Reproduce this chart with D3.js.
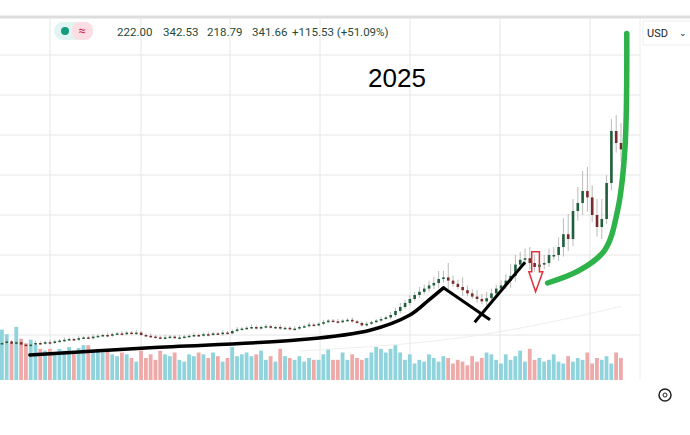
<!DOCTYPE html>
<html><head><meta charset="utf-8">
<script src="https://cdn.jsdelivr.net/npm/d3@7"></script>
<style>body{margin:0;background:#fff;font-family:Roboto,"Noto Sans",sans-serif}</style>
</head><body><svg id="c" width="690" height="435"></svg>
<script>
const closes=[40,42,39,41,38,37,38,40,39,41,40,42,43,44,45,44,46,47,46,48,49,50,49,51,52,51,53,52,53,50,49,48,47,46,47,48,46,47,48,49,50,49,51,50,52,51,53,52,55,57,58,59,60,58,60,61,59,60,58,59,57,58,60,61,63,62,64,66,68,67,66,68,69,67,65,62,64,66,68,70,72,75,80,85,90,95,100,104,108,112,115,120,122,118,114,110,106,102,98,95,92,96,102,108,112,118,124,138,144,146,140,135,138,140,150,150,160,176,170,205,215,230,222,200,185,195,240,305,290,282];
const volumes=[55,50,40,58,45,40,44,38,34,32,34,28,34,32,36,30,35,38,38,32,34,30,32,28,26,30,28,24,20,32,24,28,22,32,28,26,30,22,20,28,26,30,28,24,30,26,20,24,36,26,28,30,26,28,32,22,26,20,34,26,24,22,26,20,24,22,22,28,34,22,22,30,22,28,24,22,24,30,36,34,30,34,38,30,22,28,18,22,20,28,24,20,26,24,18,22,20,16,26,20,24,30,28,22,18,28,22,26,32,20,34,22,24,20,22,28,20,18,26,20,24,22,30,18,24,22,26,18,30,24,20];
const wicks=[2,3,2,2,3,2,2,3,2,2,3,2,2,3,2,2,3,2,2,3,2,2,3,2,2,3,2,2,3,2,2,3,2,2,3,2,2,3,2,2,3,2,2,3,2,2,3,2,2,3,2,2,3,2,2,3,2,2,3,2,2,3,2,2,3,2,2,3,2,2,3,2,2,3,2,2,3,2,2,3,2,4,4,5,4,5,4,6,5,6,8,10,8,18,6,5,12,6,5,8,6,8,6,5,6,8,15,12,10,12,14,10,12,10,8,10,12,20,25,15,20,25,30,15,20,25,10,15,20,25,20];
const priceTicks=[50,100,150,200,250,300,350,400];
const header=["222.00","342.53","218.79","341.66","+115.53 (+51.09%)"];
const blackCurve=[[5.8,25],[30.8,34],[62,44],[76.7,56],[85,75],[89,94],[92,109]];
const blackLine1=[[92,109],[101.7,69]];
const blackLine2=[[98.5,66],[109,141]];
const greenCurve=[[113.7,115],[120.4,131],[125.6,156],[128.3,206],[129.8,281],[130.2,427]];
const maLine=[[62,30],[90,40],[110,60],[125,80],[129,86]];
const redArrow=[[110.4,154],[112,154],[112,129],[112.7,129],[111.2,104],[109.8,129],[110.4,129]];

const svg=d3.select("#c");
const x=d3.scaleLinear().domain([0,129]).range([2,621]);
const y=d3.scaleLinear().domain([0,443.75]).range([375,20]);
const vy=d3.scaleLinear().domain([0,60]).range([380,325]);
const g=svg.append("g");
[50,141,230,320,410,500,590].forEach(v=>g.append("line").attr("x1",v).attr("x2",v).attr("y1",19).attr("y2",380).attr("stroke","#e6e6e6"));
priceTicks.forEach(t=>g.append("line").attr("x1",0).attr("x2",640).attr("y1",y(t)).attr("y2",y(t)).attr("stroke","#e6e6e6"));
g.append("line").attr("x1",0).attr("x2",690).attr("y1",17).attr("y2",17).attr("stroke","#ddd").attr("stroke-width",3);
g.append("line").attr("x1",640).attr("x2",640).attr("y1",19).attr("y2",380).attr("stroke","#eee");
const data=closes.map((c,i)=>({i,c,o:i?closes[i-1]:c-1,v:volumes[i],w:wicks[i]}));
g.selectAll(".v").data(data).join("rect").attr("x",d=>x(d.i)-2).attr("width",3.8)
 .attr("y",d=>vy(d.v)).attr("height",d=>vy(0)-vy(d.v))
 .attr("fill",d=>d.c>=d.o?"#8fd3dc":"#eea9a9");
g.append("path").attr("d",d3.line().curve(d3.curveBasis).x(d=>x(d[0])).y(d=>y(d[1]))(maLine)).attr("fill","none").attr("stroke","#eee");
g.selectAll(".w").data(data).join("line").attr("x1",d=>x(d.i)).attr("x2",d=>x(d.i))
 .attr("y1",d=>y(Math.max(d.o,d.c)+d.w)).attr("y2",d=>y(Math.min(d.o,d.c)-d.w*0.6)).attr("stroke","#aaa").attr("stroke-width",0.8);
g.selectAll(".b").data(data).join("rect").attr("x",d=>x(d.i)-1.3).attr("width",2.6)
 .attr("y",d=>y(Math.max(d.o,d.c))).attr("height",d=>Math.max(1.5,Math.abs(y(d.o)-y(d.c))))
 .attr("fill",d=>d.c>=d.o?"#1e5e3a":"#7a2a2a");
const ln=d3.line().x(d=>x(d[0])).y(d=>y(d[1]));
g.append("path").attr("d",ln.curve(d3.curveCatmullRom)(blackCurve)).attr("fill","none").attr("stroke","#000").attr("stroke-width",3.5).attr("stroke-linecap","round");
[blackLine1,blackLine2].forEach(l=>g.append("path").attr("d",d3.line().x(d=>x(d[0])).y(d=>y(d[1]))(l)).attr("stroke","#000").attr("stroke-width",3));
g.append("path").attr("d",d3.line().curve(d3.curveCatmullRom).x(d=>x(d[0])).y(d=>y(d[1]))(greenCurve)).attr("fill","none").attr("stroke","#2db34a").attr("stroke-width",5.5).attr("stroke-linecap","round");
g.append("path").attr("d",d3.line().x(d=>x(d[0])).y(d=>y(d[1]))(redArrow)+"Z").attr("fill","none").attr("stroke","#e0303a").attr("stroke-width",1.5);
svg.append("text").attr("x",397).attr("y",87).attr("text-anchor","middle").attr("font-family","Liberation Sans, Arial").attr("font-size",26).text("2025");
svg.append("rect").attr("x",54).attr("y",22).attr("width",39).attr("height",18).attr("rx",9).attr("fill","#e2f4f1");
svg.append("rect").attr("x",72).attr("y",22).attr("width",21).attr("height",18).attr("rx",8).attr("fill","#fbdde3");
svg.append("circle").attr("cx",65).attr("cy",31).attr("r",4).attr("fill","#159b7f");
svg.append("text").attr("x",82).attr("y",35).attr("text-anchor","middle").attr("font-size",13).attr("fill","#d0245a").text("≈");
const hx=[117,163,207,252,292];
header.forEach((h,i)=>svg.append("text").attr("x",hx[i]).attr("y",36).attr("font-size",11.5).attr("fill","#1f4a3a").text(h));
svg.append("rect").attr("x",643).attr("y",21).attr("width",50).attr("height",24).attr("fill","#fff").attr("stroke","#eee");
svg.append("text").attr("x",647).attr("y",37).attr("font-size",11).attr("fill","#222").text("USD");
svg.append("text").attr("x",679).attr("y",36).attr("font-size",9).attr("fill","#222").text("⌄");
svg.append("circle").attr("cx",665).attr("cy",395).attr("r",6).attr("fill","none").attr("stroke","#222").attr("stroke-width",1.5);
svg.append("circle").attr("cx",665).attr("cy",395).attr("r",2).attr("fill","none").attr("stroke","#222");
</script></body></html>
